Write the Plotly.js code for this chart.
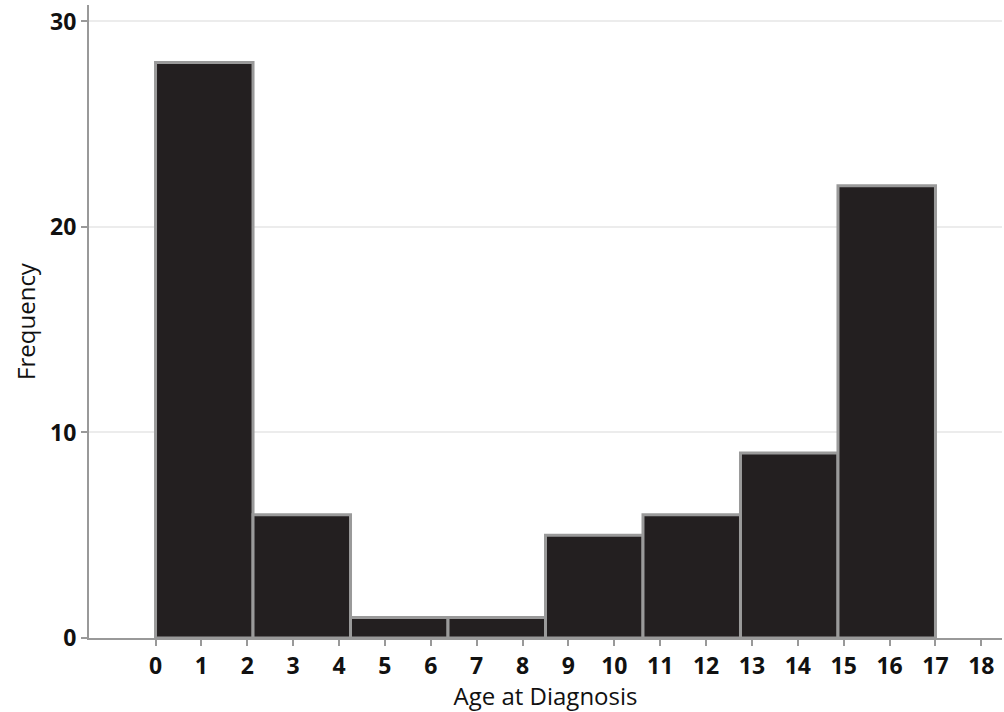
<!DOCTYPE html>
<html>
<head>
<meta charset="utf-8">
<script src="https://cdn.plot.ly/plotly-3.0.1.min.js"></script>
<style>html,body{margin:0;padding:0;background:#fff;}#chart{width:1004px;height:712px;}</style>
</head>
<body>
<div id="chart"></div>
<script>
// Histogram bins (age at diagnosis, years) and counts
const binEdges = [0, 2.125, 4.25, 6.375, 8.5, 10.625, 12.75, 14.875, 17];
const frequency = [28, 6, 1, 1, 5, 6, 9, 22];
const xTickVals = [0,1,2,3,4,5,6,7,8,9,10,11,12,13,14,15,16,17,18];
const yTickVals = [0, 10, 20, 30];

const centers = frequency.map((_, i) => (binEdges[i] + binEdges[i+1]) / 2);
const widths = frequency.map((_, i) => binEdges[i+1] - binEdges[i]);

const trace = {
  type: 'bar',
  x: centers,
  y: frequency,
  width: widths,
  marker: {color: '#231f20', line: {color: '#9a9a9a', width: 3}},
  hoverinfo: 'x+y'
};

const tickFont = {family: 'Open Sans, sans-serif', size: 23, color: '#111', weight: 700};

const layout = {
  width: 1004, height: 712,
  margin: {l: 89, r: 2, t: 5, b: 74},
  paper_bgcolor: '#fff', plot_bgcolor: '#fff',
  showlegend: false,
  bargap: 0,
  xaxis: {
    range: [-1.45, 18.45],
    tickvals: xTickVals,
    ticktext: xTickVals.map(String),
    ticks: 'outside', ticklen: 6, tickwidth: 2, tickcolor: '#999',
    showline: true, linecolor: '#999', linewidth: 2,
    showgrid: false, zeroline: false,
    tickfont: tickFont,
    title: {text: 'Age at Diagnosis', font: {family: 'Open Sans, sans-serif', size: 24, color: '#111'}, standoff: 5}
  },
  yaxis: {
    range: [0, 30.8],
    tickvals: yTickVals,
    ticks: 'outside', ticklen: 6, tickwidth: 2, tickcolor: '#999',
    showline: true, linecolor: '#999', linewidth: 2,
    showgrid: true, gridcolor: '#ececec', gridwidth: 2,
    zeroline: false,
    tickfont: tickFont,
    title: {text: 'Frequency', font: {family: 'Open Sans, sans-serif', size: 24, color: '#111'}, standoff: 8}
  }
};

Plotly.newPlot('chart', [trace], layout, {displayModeBar: false, staticPlot: true});
</script>
</body>
</html>
